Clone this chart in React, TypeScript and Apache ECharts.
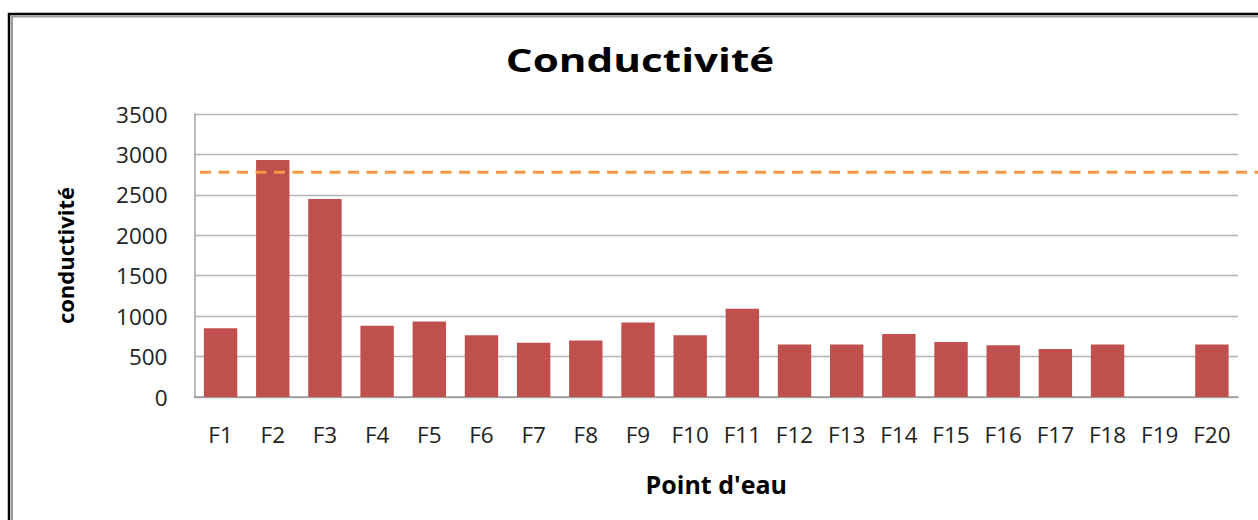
import React, { useEffect, useRef } from "react";
import * as echarts from "echarts";

const categories = ["F1","F2","F3","F4","F5","F6","F7","F8","F9","F10","F11","F12","F13","F14","F15","F16","F17","F18","F19","F20"];
const conductivity: (number | null)[] = [850, 2930, 2450, 880, 935, 765, 670, 700, 920, 765, 1090, 650, 650, 780, 680, 640, 595, 650, null, 650];
const thresholdValue = 2780;
const thresholdSpan = [0, 1];
const yMin = 0;
const yMax = 3500;
const yInterval = 500;
const titleText = "Conductivité";
const xName = "Point d'eau";
const yName = "conductivité";

export default function App() {
  const ref = useRef<HTMLDivElement>(null);
  useEffect(() => {
    if (!ref.current) return;
    const chart = echarts.init(ref.current, null, { renderer: "svg" });
    const labelFont = { fontFamily: "Open Sans", fontSize: 22.5, color: "#222" };
    chart.setOption({
      animation: false,
      backgroundColor: "#fff",
      graphic: [
        {
          type: "rect",
          shape: { x: 9, y: 14, width: 1400, height: 700 },
          style: { fill: "none", stroke: "#000", lineWidth: 2.5 },
          silent: true,
        },
        {
          type: "polyline",
          shape: { points: [[12, 720], [12, 16.5], [1400, 16.5]] },
          style: { fill: "none", stroke: "#9a9a9a", lineWidth: 2 },
          silent: true,
        },
        {
          type: "text",
          x: 640,
          y: 60,
          scaleX: 1.32,
          style: {
            text: titleText,
            font: 'bold 32px "Open Sans"',
            fill: "#000",
            align: "center",
            verticalAlign: "middle",
          },
        },
      ],
      grid: [
        { left: 194.5, right: 20, top: 114, bottom: 123 },
        { left: 200, right: 0, top: 114, bottom: 123 },
      ],
      xAxis: [
        {
          type: "category",
          data: categories,
          gridIndex: 0,
          axisLine: { lineStyle: { color: "#9a9a9a", width: 1.5 } },
          axisTick: { show: false },
          axisLabel: { ...labelFont, margin: 26, interval: 0 },
          name: xName,
          nameLocation: "middle",
          nameGap: 74,
          nameTextStyle: { fontFamily: "Open Sans", fontWeight: "bold", fontSize: 25, color: "#000" },
        },
        { type: "value", gridIndex: 1, min: 0, max: 1, show: false },
      ],
      yAxis: [
        {
          type: "value",
          gridIndex: 0,
          min: yMin,
          max: yMax,
          interval: yInterval,
          axisLine: { show: true, lineStyle: { color: "#a6a6a6", width: 1.5 } },
          axisTick: { show: false },
          splitLine: { lineStyle: { color: "#b3b3b3", width: 1.3 } },
          axisLabel: { ...labelFont, margin: 27, formatter: (v: number) => String(v) },
          name: yName,
          nameLocation: "middle",
          nameGap: 119,
          nameTextStyle: { fontFamily: "Open Sans", fontWeight: "bold", fontSize: 22, color: "#000" },
        },
        { type: "value", gridIndex: 1, min: yMin, max: yMax, show: false },
      ],
      series: [
        {
          type: "bar",
          xAxisIndex: 0,
          yAxisIndex: 0,
          data: conductivity,
          barCategoryGap: "36%",
          itemStyle: { color: "#C0504D" },
        },
        {
          type: "line",
          xAxisIndex: 1,
          yAxisIndex: 1,
          data: thresholdSpan.map((x) => [x, thresholdValue]),
          symbol: "none",
          lineStyle: { color: "#F79646", width: 3, type: [11, 7.5] },
          silent: true,
        },
      ],
    });
    return () => chart.dispose();
  }, []);
  return (
    <div
      ref={ref}
      style={{ position: "fixed", left: 0, top: 0, width: 1258, height: 520, background: "#fff" }}
    />
  );
}
